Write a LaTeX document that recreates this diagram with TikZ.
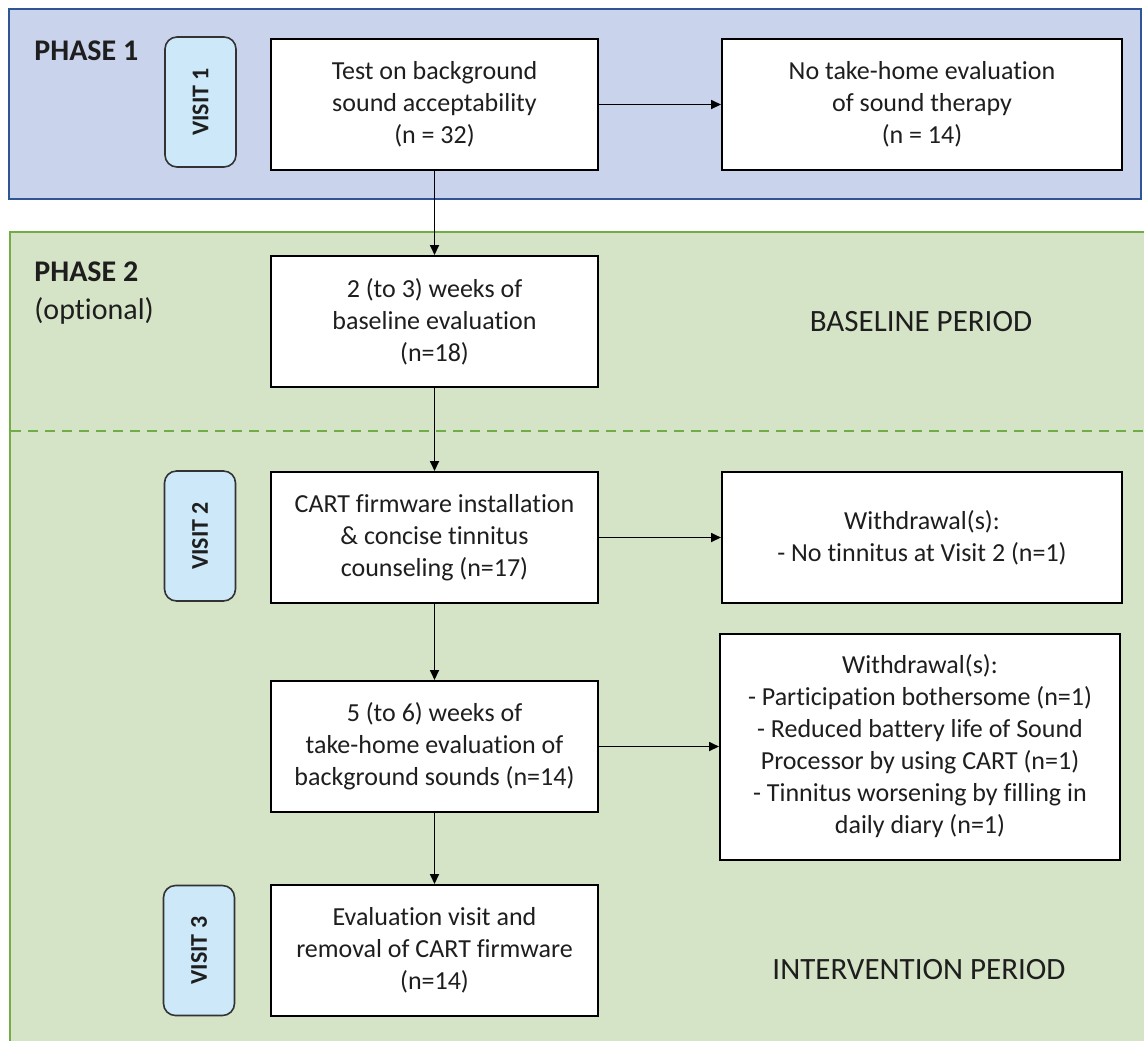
\documentclass[tikz,border=0pt]{standalone}
\usepackage{fontspec}
\setmainfont[Ligatures=NoCommon]{Carlito}
\usetikzlibrary{arrows.meta}

\definecolor{phaseblue}{RGB}{201,212,236}
\definecolor{phaseblueline}{RGB}{47,85,151}
\definecolor{phasegreen}{RGB}{213,227,198}
\definecolor{phasegreenline}{RGB}{112,173,71}
\definecolor{visitblue}{RGB}{204,232,249}
\definecolor{inkgray}{RGB}{30,30,30}

\begin{document}
\begin{tikzpicture}[
        x=0.5pt, y=-0.5pt,
        font=\fontsize{13}{16}\selectfont,
        text=inkgray,
        stepbox/.style={draw=black, fill=white, line width=1pt, align=center,
            minimum width=163.5pt, minimum height=65.5pt},
        sidebox/.style={stepbox, minimum width=200pt},
        visitbox/.style={draw=black!80, fill=visitblue, line width=0.8pt,
            rounded corners=6pt, rotate=90, minimum width=65pt, minimum height=35.5pt,
            font=\fontsize{12}{14}\selectfont\bfseries},
        phaselabel/.style={anchor=base west, inner sep=0pt, font=\fontsize{15}{19}\selectfont},
        period/.style={font=\fontsize{15.5}{19}\selectfont},
        flow/.style={-{Triangle[length=5pt,width=4.5pt]}, line width=0.85pt, black}
    ]
        \clip (0,0) rectangle (1144,1040);
        \fill[white] (0,0) rectangle (1144,1040);

        % Phase frames
        \draw[phaseblueline, fill=phaseblue, line width=1pt] (9,9) rectangle (1141,199);
        \draw[phasegreenline, fill=phasegreen, line width=1pt] (10,232) rectangle (1160,1060);
        \draw[phasegreenline, line width=1pt, dash pattern=on 5pt off 3.5pt]
            (11,431) -- (1144,431);

        % Phase labels
        \node[phaselabel, font=\fontsize{15}{19}\selectfont\bfseries] (phone) at (34,60) {PHASE 1};
        \node[phaselabel, font=\fontsize{15}{19}\selectfont\bfseries] (phtwo) at (34,281) {PHASE 2};
        \node[phaselabel] (phtwoopt) at (34,319) {(optional)};

        % Periods
        \node[period] (baseperiod) at (921,322) {BASELINE PERIOD};
        \node[period] (interperiod) at (919,970) {INTERVENTION PERIOD};

        % Visit 1
        \node[visitbox] (visit1) at (200.5,102) {VISIT 1};
        \node[stepbox] (test) at (434.5,104.5) {Test on background\\sound acceptability\\(n = 32)};
        \node[sidebox] (notake) at (922,104.5) {No take-home evaluation\\of sound therapy\\(n = 14)};

        % Baseline
        \node[stepbox] (base) at (434.5,321.5) {2 (to 3) weeks of\\baseline evaluation\\(n=18)};

        % Visit 2
        \node[visitbox] (visit2) at (200,536) {VISIT 2};
        \node[stepbox] (cart) at (434.5,537.5) {CART firmware installation\\\& concise tinnitus\\counseling (n=17)};
        \node[sidebox] (wdone) at (922,537.5) {Withdrawal(s):\\- No tinnitus at Visit 2 (n=1)};

        % Take-home
        \node[stepbox] (home) at (434.5,746.5) {5 (to 6) weeks of\\take-home evaluation of\\background sounds (n=14)};
        \node[sidebox, minimum height=113pt] (wdtwo) at (920,746.5)
            {Withdrawal(s):\\- Participation bothersome (n=1)\\- Reduced battery life of Sound\\Processor by using CART (n=1)\\- Tinnitus worsening by filling in\\daily diary (n=1)};

        % Visit 3
        \node[visitbox] (visit3) at (199,950.5) {VISIT 3};
        \node[stepbox] (eval) at (434.5,950.5) {Evaluation visit and\\removal of CART firmware\\(n=14)};

        % Arrows
        \draw[flow] (test) -- (notake);
        \draw[flow] (test) -- (base);
        \draw[flow] (base) -- (cart);
        \draw[flow] (cart) -- (wdone);
        \draw[flow] (cart) -- (home);
        \draw[flow] (home) -- (wdtwo);
        \draw[flow] (home) -- (eval);

    \end{tikzpicture}
\end{document}
